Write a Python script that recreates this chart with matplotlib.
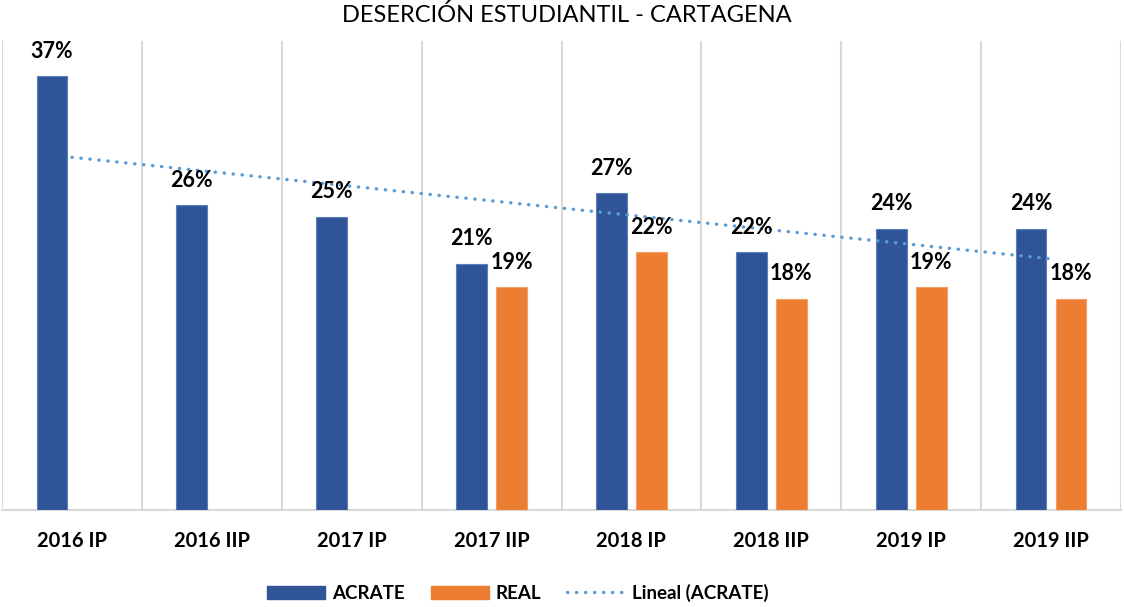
import numpy as np
import matplotlib
matplotlib.use("Agg")
import matplotlib.pyplot as plt
from matplotlib.patches import Patch
from matplotlib.lines import Line2D

plt.rcParams['font.family'] = ['Lato', 'DejaVu Sans']

periodos = ["2016 IP", "2016 IIP", "2017 IP", "2017 IIP", "2018 IP", "2018 IIP", "2019 IP", "2019 IIP"]
acrate = [37, 26, 25, 21, 27, 22, 24, 24]
real = [None, None, None, 19, 22, 18, 19, 18]

azul = "#2F5597"
naranja = "#ED7D31"
tend = "#5B9BD5"

fig = plt.figure(figsize=(11.24, 6.07), dpi=100)
ax = fig.add_axes([2/1124, 97/607, 1119/1124, 469/607])

x = np.arange(len(periodos))
w = 0.22
off = 0.143

ax.bar(x - off, acrate, w, color=azul, edgecolor="#5b7fbd", linewidth=0.8, zorder=3)
xr = [i for i in x if real[i] is not None]
vr = [real[i] for i in xr]
ax.bar(np.array(xr) + off, vr, w, color=naranja, edgecolor="#f3a06a", linewidth=0.8, zorder=3)

# linea de tendencia
m, c = np.polyfit(x, acrate, 1)
ax.plot(x, m * x + c, color=tend, lw=2.4, linestyle=(0, (0.1, 2.6)),
        dash_capstyle="round", zorder=4)

for i, v in enumerate(acrate):
    ax.annotate(f"{v}%", (x[i] - off, v), xytext=(0, 18), textcoords="offset points",
                ha="center", va="center", fontsize=15.5, fontweight="bold", zorder=5)
for i, v in zip(xr, vr):
    ax.annotate(f"{v}%", (i + off, v), xytext=(0, 18), textcoords="offset points",
                ha="center", va="center", fontsize=15.5, fontweight="bold", zorder=5)

ax.set_xlim(-0.5, len(periodos) - 0.5)
ax.set_ylim(0, 40)
ax.set_yticks([])
ax.set_xticks(x)
ax.set_xticklabels(periodos, fontsize=14.5, fontweight="bold")
ax.tick_params(axis="x", length=0, pad=15)
ax.set_xticks(np.arange(-0.5, len(periodos), 1), minor=True)
ax.tick_params(axis="x", which="minor", length=0)
ax.grid(axis="x", which="minor", color="#D9D9D9", lw=1.5, zorder=0)
for s in ["top", "left", "right"]:
    ax.spines[s].set_visible(False)
ax.spines["bottom"].set_color("#D9D9D9")
ax.spines["bottom"].set_linewidth(1.5)

fig.text(567/1124, 1 - 15/607, "DESERCIÓN ESTUDIANTIL - CARTAGENA", ha="center", va="center", fontsize=17)

handles = [Patch(color=azul), Patch(color=naranja),
           Line2D([], [], color=tend, lw=2.4, linestyle=(0, (0.1, 2.6)), dash_capstyle="round")]
fig.legend(handles, ["ACRATE", "REAL", "Lineal (ACRATE)"], loc="center",
           bbox_to_anchor=(518/1124, 1 - 593/607), ncol=3, frameon=False,
           prop={"size": 13.5, "weight": "bold"}, handlelength=3.1, handleheight=0.7,
           columnspacing=1.4, handletextpad=0.35)

fig.savefig("out.png", dpi=100)
